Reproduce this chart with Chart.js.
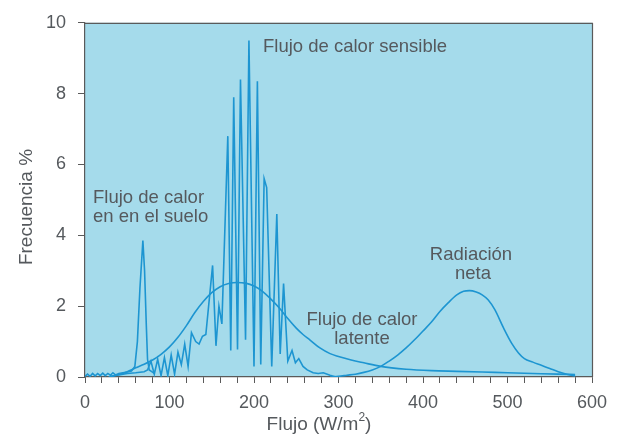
<!DOCTYPE html>
<html><head><meta charset="utf-8">
<script src="https://cdn.jsdelivr.net/npm/chart.js@4"></script>
<style>html,body{margin:0;padding:0;background:#fff;} #c{display:block;}</style>
</head><body>
<canvas id="c" width="623" height="439"></canvas>
<script>
// ---- data ----
const xTicks = [0, 100, 200, 300, 400, 500, 600];
const yTicks = [0, 2, 4, 6, 8, 10];

const sueloX = [0,3,6,9,12,15,18,21,24,27,30,33,36,40,45,50,55,59,62,65,68.5,70.5,72.5,74,76,79,82];
const sueloY = [0.02,0.08,0.02,0.1,0.03,0.1,0.04,0.11,0.04,0.1,0.05,0.12,0.06,0.1,0.12,0.14,0.17,0.3,1.0,2.5,3.85,3.0,1.5,0.5,0.2,0.15,0.1];

const sensibleX = [30,40,50,60,70,74,78,82,86,90,94,98,102,106,110,114,118,122,126,131,135,139,143,151,155,158.5,162,169,172.5,176,180.5,184,190,194,200,204,208,212,215,221,227,231,235,240,245,249,253,258,263,270,276,282,290,297];
const sensibleY = [0.02,0.06,0.1,0.12,0.15,0.2,0.45,0.08,0.5,0.04,0.55,0.04,0.62,0.08,0.7,0.35,0.93,0.3,1.25,1.0,0.93,1.15,1.2,3.15,0.88,2.0,1.5,6.8,0.75,7.9,0.78,8.4,1.05,9.5,0.3,8.35,0.35,5.6,5.35,0.3,4.6,0.65,2.64,0.45,0.75,0.4,0.52,0.3,0.2,0.12,0.1,0.12,0.05,0.0];

const latenteX = [28,40,50,60,70,80,90,100,110,120,130,140,150,160,170,180,190,200,210,220,230,240,250,258,266,278,290,300,315,330,350,380,410,440,470,500,530,560,580];
const latenteY = [0,0.07,0.15,0.26,0.36,0.48,0.64,0.85,1.12,1.45,1.82,2.13,2.38,2.55,2.64,2.67,2.65,2.57,2.42,2.2,1.95,1.65,1.38,1.2,1.05,0.82,0.66,0.58,0.48,0.4,0.3,0.22,0.18,0.16,0.14,0.12,0.1,0.08,0.07];

const radiacionX = [290,300,310,320,330,340,350,360,370,380,390,400,410,420,430,440,448,455,463,470,477,485,495,505,513,520,530,540,550,560,570,580];
const radiacionY = [0,0.02,0.05,0.08,0.13,0.2,0.3,0.45,0.62,0.82,1.05,1.3,1.55,1.85,2.1,2.32,2.42,2.44,2.4,2.32,2.18,1.9,1.4,0.95,0.68,0.52,0.42,0.33,0.24,0.15,0.08,0.03];

// ---- styles ----
const LINE = '#1d95d1';
const PLOT_BG = '#a5dbeb';
const TEXT = '#55595d';
const AXIS = '#5a5a5a';
const FONT = '"Liberation Sans", Arial, Helvetica, sans-serif';

const pts = (xs, ys) => xs.map((x, i) => ({x, y: ys[i]}));

const decor = {
  id: 'decor',
  beforeDraw(chart) {
    const {ctx, chartArea: a} = chart;
    ctx.save();
    ctx.fillStyle = '#ffffff';
    ctx.fillRect(0, 0, chart.width, chart.height);
    ctx.fillStyle = PLOT_BG;
    ctx.fillRect(a.left, a.top, a.right - a.left, a.bottom - a.top);
    ctx.restore();
  },
  afterDraw(chart) {
    const {ctx, chartArea: a} = chart;
    ctx.save();
    // top and right frame
    ctx.strokeStyle = AXIS;
    ctx.lineWidth = 1.2;
    ctx.beginPath();
    ctx.moveTo(a.left, a.top + 0.5);
    ctx.lineTo(a.right + 0.5, a.top + 0.5);
    ctx.lineTo(a.right + 0.5, a.bottom);
    ctx.stroke();

    ctx.fillStyle = TEXT;
    ctx.textBaseline = 'middle';
    ctx.font = '18.5px ' + FONT;
    ctx.textAlign = 'left';
    ctx.fillText('Flujo de calor sensible', 263, 47);
    ctx.fillText('Flujo de calor', 93, 198);
    ctx.fillText('en en el suelo', 93, 217);
    ctx.textAlign = 'center';
    ctx.fillText('Flujo de calor', 362, 320);
    ctx.fillText('latente', 362, 339);
    ctx.fillText('Radiación', 471, 255);
    ctx.fillText('neta', 473, 274);

    // axis titles
    ctx.font = '19px ' + FONT;
    ctx.save();
    ctx.translate(27, 207);
    ctx.rotate(-Math.PI / 2);
    ctx.textAlign = 'center';
    ctx.fillText('Frecuencia %', 0, 0);
    ctx.restore();

    const t1 = 'Flujo (W/m', t2 = '2', t3 = ')';
    ctx.font = '19px ' + FONT;
    const w1 = ctx.measureText(t1).width, w3 = ctx.measureText(t3).width;
    ctx.font = '12px ' + FONT;
    const w2 = ctx.measureText(t2).width;
    let x0 = 319 - (w1 + w2 + w3) / 2;
    ctx.textAlign = 'left';
    ctx.font = '19px ' + FONT;
    ctx.fillText(t1, x0, 425);
    ctx.font = '12px ' + FONT;
    ctx.fillText(t2, x0 + w1, 418);
    ctx.font = '19px ' + FONT;
    ctx.fillText(t3, x0 + w1 + w2, 425);
    ctx.restore();
  }
};

const ds = (label, xs, ys, smooth) => ({
  label, data: pts(xs, ys), borderColor: LINE, borderWidth: 1.6,
  pointRadius: 0, fill: false,
  tension: smooth ? 0.4 : 0, cubicInterpolationMode: smooth ? 'monotone' : 'default'
});

new Chart(document.getElementById('c'), {
  type: 'line',
  data: {
    datasets: [
      ds('Flujo de calor en el suelo', sueloX, sueloY, false),
      ds('Flujo de calor sensible', sensibleX, sensibleY, false),
      ds('Flujo de calor latente', latenteX, latenteY, true),
      ds('Radiación neta', radiacionX, radiacionY, true)
    ]
  },
  options: {
    responsive: false,
    animation: false,
    devicePixelRatio: 1,
    layout: {padding: {top: 15, right: 31, bottom: 0, left: 0}},
    plugins: {legend: {display: false}, tooltip: {enabled: false}},
    scales: {
      x: {
        type: 'linear', min: 0, max: 600,
        afterFit: s => { s.height = 62; },
        ticks: {
          stepSize: 20, autoSkip: false, maxRotation: 0, padding: 9,
          color: TEXT, font: {family: FONT, size: 18},
          callback: v => xTicks.includes(v) ? String(v) : ''
        },
        grid: {display: true, drawOnChartArea: false, drawTicks: true, tickLength: 6, color: AXIS, lineWidth: 1},
        border: {display: true, color: AXIS, width: 1.2}
      },
      y: {
        type: 'linear', min: 0, max: 10,
        afterFit: s => { s.width = 85; },
        ticks: {
          stepSize: 2, padding: 12,
          color: TEXT, font: {family: FONT, size: 18},
          callback: v => yTicks.includes(v) ? String(v) : ''
        },
        grid: {display: true, drawOnChartArea: false, drawTicks: true, tickLength: 7, color: AXIS, lineWidth: 1},
        border: {display: true, color: AXIS, width: 1.2}
      }
    }
  },
  plugins: [decor]
});
</script>
</body></html>
